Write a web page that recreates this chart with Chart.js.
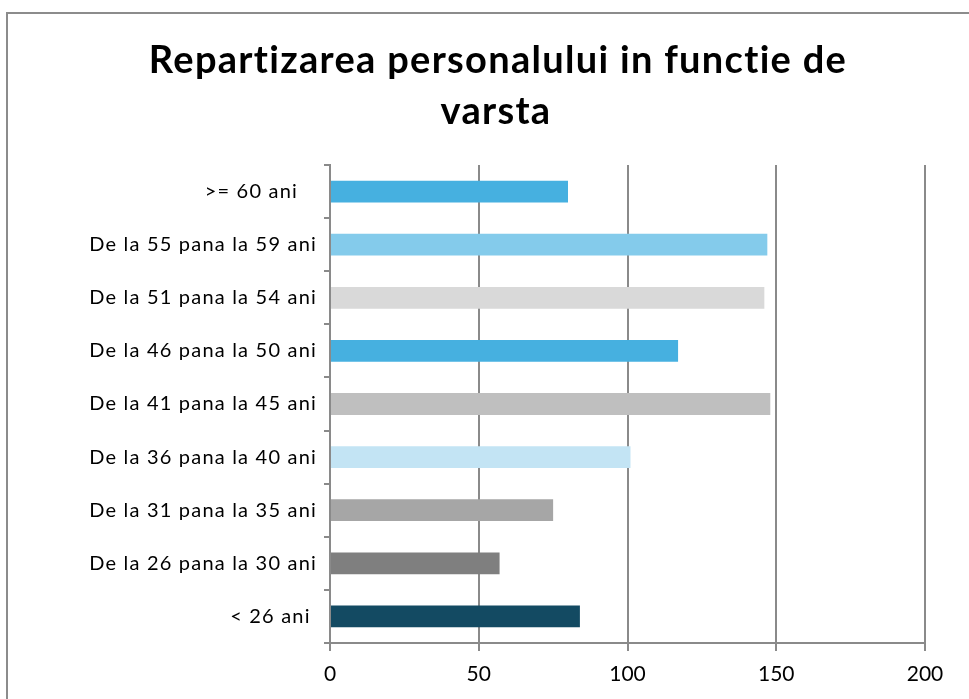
<!DOCTYPE html>
<html>
<head>
<meta charset="utf-8">
<script src="https://cdn.jsdelivr.net/npm/chart.js@4.4.1/dist/chart.umd.min.js"></script>
<style>
  html, body { margin: 0; padding: 0; background: #fff; }
  #wrap { position: relative; width: 969px; height: 699px; overflow: hidden; }
  #frame { position: absolute; left: 6px; top: 12px; width: 1000px; height: 720px; border: 2px solid #8c8c8c; box-sizing: border-box; }
  canvas { position: absolute; left: 0; top: 0; }
</style>
</head>
<body>
<div id="wrap">
  <div id="frame"></div>
  <canvas id="chart" width="969" height="699"></canvas>
</div>
<script>
var titleLines = ['Repartizarea personalului in functie de', 'varsta'];
var categories = [
  '>= 60 ani   ',
  'De la 55 pana la 59 ani',
  'De la 51 pana la 54 ani',
  'De la 46 pana la 50 ani',
  'De la 41 pana la 45 ani',
  'De la 36 pana la 40 ani',
  'De la 31 pana la 35 ani',
  'De la 26 pana la 30 ani',
  '< 26 ani '
];
var values = [80, 147, 146, 117, 148, 101, 75, 57, 84];
var barColors = ['#46b0e0', '#84cbeb', '#d9d9d9', '#46b0e0', '#bfbfbf', '#c3e4f4', '#a6a6a6', '#7f7f7f', '#134a62'];
var xTicks = [0, 50, 100, 150, 200];

var fontFamily = 'Lato, "Open Sans", sans-serif';
var gridColor = '#8a8a8a';

// title drawn by hand so it can sit off-centre like the original
var titlePlugin = {
  id: 'bigTitle',
  afterDraw: function (chart) {
    var ctx = chart.ctx;
    ctx.save();
    ctx.letterSpacing = '1.3px';
    ctx.font = 'bold 38px ' + fontFamily;
    ctx.fillStyle = '#000';
    ctx.textAlign = 'center';
    ctx.textBaseline = 'alphabetic';
    ctx.fillText(titleLines[0], 498, 73);
    ctx.fillText(titleLines[1], 496, 124);
    ctx.restore();
  }
};

// a bit of extra spacing on the category labels
function spacedLabels(scale) {
  if (scale._spaced) return;
  var orig = scale.drawLabels;
  scale.drawLabels = function (area) {
    var prev = this.ctx.letterSpacing;
    this.ctx.letterSpacing = '1.2px';
    orig.call(this, area);
    this.ctx.letterSpacing = prev;
  };
  scale._spaced = true;
}

new Chart(document.getElementById('chart'), {
  type: 'bar',
  data: {
    labels: categories,
    datasets: [{
      data: values,
      backgroundColor: barColors,
      borderWidth: 0,
      barPercentage: 0.41,
      categoryPercentage: 1
    }]
  },
  options: {
    indexAxis: 'y',
    responsive: false,
    animation: false,
    layout: { padding: { top: 165, right: 44, bottom: 0, left: 0 } },
    plugins: {
      legend: { display: false },
      tooltip: { enabled: false },
      title: { display: false }
    },
    scales: {
      x: {
        min: 0,
        max: 200,
        afterBuildTicks: function (scale) {
          scale.ticks = xTicks.map(function (v) { return { value: v }; });
        },
        afterFit: function (scale) { scale.height = 56; },
        grid: { color: gridColor, lineWidth: 2, tickLength: 8, drawTicks: true },
        border: { display: true, color: gridColor, width: 2 },
        ticks: { color: '#000', font: { family: fontFamily, size: 21 }, padding: 11 }
      },
      y: {
        afterFit: function (scale) { scale.width = 330; },
        afterUpdate: spacedLabels,
        grid: { offset: true, drawOnChartArea: false, color: gridColor, lineWidth: 2, tickLength: 6 },
        border: { display: true, color: gridColor, width: 2 },
        ticks: { color: '#000', font: { family: fontFamily, size: 20 }, padding: 7, autoSkip: false }
      }
    }
  },
  plugins: [titlePlugin]
});
</script>
</body>
</html>
